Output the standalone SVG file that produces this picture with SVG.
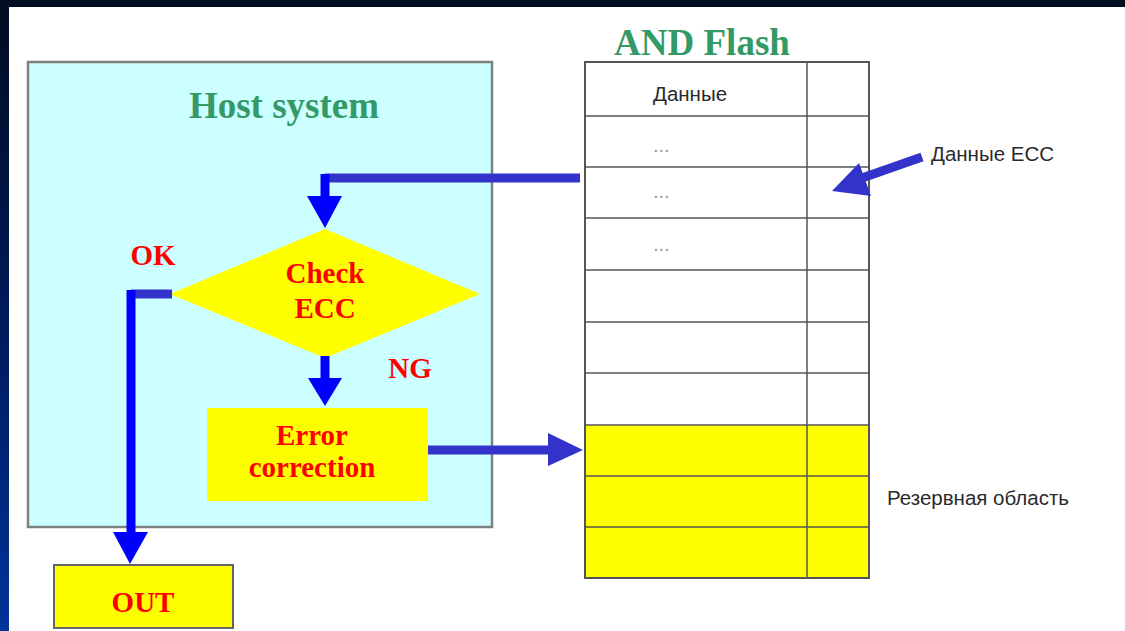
<svg xmlns="http://www.w3.org/2000/svg" width="1125" height="631" viewBox="0 0 1125 631">
<defs>
<linearGradient id="side" x1="0" y1="0" x2="0" y2="1">
<stop offset="0" stop-color="#000c20"/>
<stop offset="0.5" stop-color="#001a5a"/>
<stop offset="1" stop-color="#003399"/>
</linearGradient>
<style>
.serif{font-family:"Liberation Serif","Times New Roman",serif;font-weight:bold}
.title{fill:#339966;font-size:37px}
.red{fill:#ff0000;font-size:29px}
.sans{font-family:"Liberation Sans",Arial,sans-serif;fill:#2a2a2a;font-size:20.5px}
.dots{font-family:"Liberation Sans",Arial,sans-serif;fill:#999;font-size:20px}
.row{stroke:#555;stroke-width:1.5}
.vb{stroke:#0000ff;stroke-width:9;fill:none}
.hb{stroke:#3333cc;stroke-width:9;fill:none}
</style>
</defs>
<rect x="0" y="0" width="1125" height="631" fill="#ffffff"/>
<rect x="0" y="0" width="9" height="631" fill="url(#side)"/>
<rect x="0" y="0" width="1125" height="7" fill="#000c20"/>

<g id="host-system">
<rect x="28" y="62" width="464" height="465" fill="#ccffff" stroke="#808080" stroke-width="2.5"/>
<text class="serif title" x="284" y="118" text-anchor="middle">Host system</text>
</g>

<g id="flash">
<text class="serif title" x="702" y="55" text-anchor="middle">AND Flash</text>
<rect x="585" y="425" width="284" height="153" fill="#ffff00"/>
<rect x="585" y="62" width="284" height="516" fill="none" stroke="#555" stroke-width="2"/>
<line class="row" x1="807" y1="62" x2="807" y2="578"/>
<line class="row" x1="585" y1="116" x2="869" y2="116"/>
<line class="row" x1="585" y1="167" x2="869" y2="167"/>
<line class="row" x1="585" y1="218" x2="869" y2="218"/>
<line class="row" x1="585" y1="270" x2="869" y2="270"/>
<line class="row" x1="585" y1="322" x2="869" y2="322"/>
<line class="row" x1="585" y1="373" x2="869" y2="373"/>
<line class="row" x1="585" y1="425" x2="869" y2="425"/>
<line class="row" x1="585" y1="476" x2="869" y2="476"/>
<line class="row" x1="585" y1="527" x2="869" y2="527"/>
<text class="sans" x="653" y="101">Данные</text>
<text class="dots" x="653" y="152">...</text>
<text class="dots" x="653" y="198">...</text>
<text class="dots" x="653" y="251">...</text>
</g>

<g id="ecc-label">
<text class="sans" x="931" y="161">Данные ECC</text>
</g>
<g id="reserve-label">
<text class="sans" x="887" y="505">Резервная область</text>
</g>

<g id="check-ecc">
<polygon points="170,294 325,229 480,294 325,358" fill="#ffff00"/>
<text class="serif red" x="325" y="283" text-anchor="middle">Check</text>
<text class="serif red" x="325" y="318" text-anchor="middle">ECC</text>
</g>

<g id="error-correction">
<rect x="207" y="408" width="221" height="93" fill="#ffff00"/>
<text class="serif red" x="312" y="445" text-anchor="middle">Error</text>
<text class="serif red" x="312" y="477" text-anchor="middle">correction</text>
</g>

<g id="out">
<rect x="54" y="565" width="179" height="63" fill="#ffff00" stroke="#666" stroke-width="2"/>
<text class="serif red" x="143" y="612" text-anchor="middle">OUT</text>
</g>

<g id="labels">
<text class="serif red" x="153" y="265" text-anchor="middle">OK</text>
<text class="serif red" x="410" y="378" text-anchor="middle">NG</text>
</g>

<g id="connectors">
<path class="hb" d="M580,178 H325"/>
<path class="vb" d="M325,174 V198"/>
<polygon points="307,196 342,196 325,228" fill="#0000ff"/>
<path class="vb" d="M325,356 V380"/>
<polygon points="308,378 342,378 325,406" fill="#0000ff"/>
<path class="hb" d="M172,294 H131"/>
<path class="vb" d="M131,290 V534"/>
<polygon points="113,532 148,532 130,564" fill="#0000ff"/>
<path class="hb" d="M428,450 H550"/>
<polygon points="548,433 548,466 583,450" fill="#3333cc"/>
<path class="hb" d="M922,157 L862,178"/>
<polygon points="832,191 859,163 871,196" fill="#3333cc"/>
</g>
</svg>
